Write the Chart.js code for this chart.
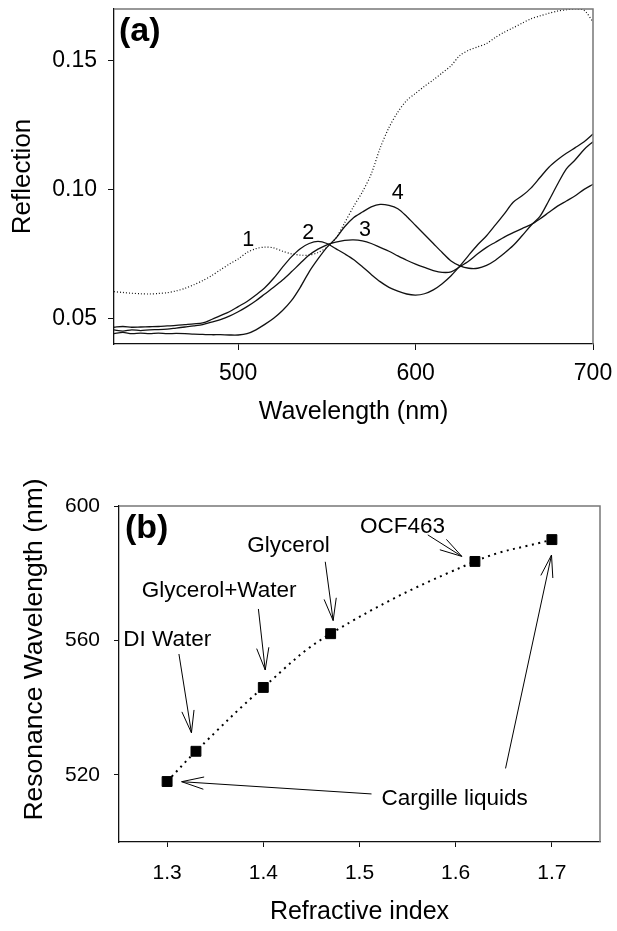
<!DOCTYPE html>
<html>
<head>
<meta charset="utf-8">
<script src="https://cdn.jsdelivr.net/npm/chart.js@4.4.1/dist/chart.umd.min.js"></script>
<style>
  html, body { margin: 0; padding: 0; background: #fff; }
  #wrapA { position: absolute; left: 0; top: 0; width: 617px; height: 466px; }
  #wrapB { position: absolute; left: 0; top: 466px; width: 617px; height: 465px; }
</style>
</head>
<body>
<div id="wrapA"><canvas id="chartA"></canvas></div>
<div id="wrapB"><canvas id="chartB"></canvas></div>
<script>
// ---- panel (a): reflection spectra ----
const wavelengths = [430, 435, 440, 445, 450, 455, 460, 465, 470, 475,
                     480, 485, 490, 495, 500, 505, 510, 515, 520, 525,
                     530, 535, 540, 545, 550, 555, 560, 565, 570, 575,
                     580, 585, 590, 595, 600, 605, 610, 615, 620, 625,
                     630, 635, 640, 645, 650, 655, 660, 665, 670, 675,
                     680, 685, 690, 695, 700];
const refl1 = [0.0603, 0.0600, 0.0597, 0.0595, 0.0594, 0.0596, 0.0599, 0.0606, 0.0616, 0.0630,
               0.0646, 0.0665, 0.0688, 0.0710, 0.0730, 0.0755, 0.0770, 0.0776, 0.0773, 0.0760,
               0.0750, 0.0745, 0.0745, 0.0755, 0.0775, 0.0810, 0.0870, 0.0933, 0.0990, 0.1060,
               0.1160, 0.1240, 0.1300, 0.1345, 0.1373, 0.1400, 0.1425, 0.1452, 0.1480, 0.1520,
               0.1540, 0.1553, 0.1566, 0.1590, 0.1610, 0.1627, 0.1645, 0.1662, 0.1673, 0.1683,
               0.1692, 0.1697, 0.1700, 0.1695, 0.1650];
const refl2 = [0.0465, 0.0468, 0.0465, 0.0466, 0.0467, 0.0468, 0.0470, 0.0472, 0.0475, 0.0478,
               0.0482, 0.0495, 0.0510, 0.0525, 0.0545, 0.0565, 0.0590, 0.0618, 0.0655, 0.0698,
               0.0738, 0.0770, 0.0790, 0.0798, 0.0790, 0.0770, 0.0750, 0.0728, 0.0700, 0.0670,
               0.0642, 0.0620, 0.0605, 0.0594, 0.0590, 0.0595, 0.0610, 0.0634, 0.0665, 0.0703,
               0.0745, 0.0785, 0.0820, 0.0862, 0.0905, 0.0950, 0.0975, 0.1005, 0.1045, 0.1085,
               0.1115, 0.1140, 0.1162, 0.1185, 0.1215];
const refl3 = [0.0455, 0.0450, 0.0455, 0.0452, 0.0455, 0.0456, 0.0458, 0.0462, 0.0466, 0.0470,
               0.0475, 0.0485, 0.0495, 0.0508, 0.0525, 0.0545, 0.0568, 0.0594, 0.0620, 0.0648,
               0.0680, 0.0713, 0.0745, 0.0768, 0.0785, 0.0795, 0.0802, 0.0804, 0.0800, 0.0790,
               0.0775, 0.0760, 0.0742, 0.0725, 0.0710, 0.0697, 0.0685, 0.0678, 0.0680, 0.0700,
               0.0722, 0.0750, 0.0775, 0.0795, 0.0815, 0.0832, 0.0848, 0.0863, 0.0885, 0.0910,
               0.0935, 0.0955, 0.0975, 0.1000, 0.1020];
const refl4 = [0.0440, 0.0445, 0.0440, 0.0442, 0.0440, 0.0442, 0.0440, 0.0441, 0.0440, 0.0438,
               0.0437, 0.0436, 0.0436, 0.0435, 0.0435, 0.0440, 0.0455, 0.0476, 0.0500, 0.0530,
               0.0568, 0.0620, 0.0680, 0.0730, 0.0775, 0.0810, 0.0855, 0.0890, 0.0912, 0.0932,
               0.0942, 0.0938, 0.0925, 0.0895, 0.0860, 0.0825, 0.0790, 0.0755, 0.0722, 0.0703,
               0.0694, 0.0694, 0.0705, 0.0725, 0.0752, 0.0782, 0.0820, 0.0860, 0.0894, 0.0955,
               0.1020, 0.1080, 0.1115, 0.1155, 0.1185];
const wlTicks = [500, 600, 700];
const reflTicks = [0.05, 0.10, 0.15];
const curveNames = ['1', '2', '3', '4'];
const curveNameWl = [505.7, 539.5, 571.4, 590];
const curveNameRefl = [0.0804, 0.0830, 0.0843, 0.0986];

// ---- panel (b): resonance vs refractive index ----
const refIndex = [1.30, 1.33, 1.40, 1.47, 1.62, 1.70];
const resWavelength = [518, 527, 546, 562, 583.5, 590];
const riTicks = [1.3, 1.4, 1.5, 1.6, 1.7];
const resTicks = [520, 560, 600];
const liquidNames = ['DI Water', 'Glycerol+Water', 'Glycerol', 'OCF463', 'Cargille liquids'];
const liquidNameAt = [[1.2545, 558.3], [1.2736, 572.8], [1.3834, 586.4], [1.5004, 592.05], [1.5229, 511.0]];
// arrows: from (x1, y1) to tip (x2, y2), in data units
const liquidArrows = [
  [1.3123, 555.95, 1.3253, 532.5],
  [1.3949, 569.35, 1.4020, 551.2],
  [1.4644, 583.4, 1.4726, 565.9],
  [1.5710, 591.4, 1.6064, 585.0],
  [1.5125, 514.3, 1.3151, 517.95],
  [1.6518, 521.9, 1.6996, 585.4]
];

const FONT = '"Liberation Sans", Arial, Helvetica, sans-serif';

function toPoints(xs, ys) {
  return xs.map((x, i) => ({ x: x, y: ys[i] }));
}

function drawArrow(ctx, x1, y1, x2, y2) {
  const ang = Math.atan2(y2 - y1, x2 - x1);
  const len = 23, spread = 0.27;
  ctx.beginPath();
  ctx.moveTo(x1, y1);
  ctx.lineTo(x2, y2);
  ctx.moveTo(x2 - len * Math.cos(ang - spread), y2 - len * Math.sin(ang - spread));
  ctx.lineTo(x2, y2);
  ctx.lineTo(x2 - len * Math.cos(ang + spread), y2 - len * Math.sin(ang + spread));
  ctx.stroke();
}

function drawFrame(ctx, a) {
  ctx.strokeStyle = '#777';
  ctx.lineWidth = 1.5;
  ctx.beginPath();
  ctx.moveTo(a.left, a.top);
  ctx.lineTo(a.right, a.top);
  ctx.lineTo(a.right, a.bottom);
  ctx.stroke();
}

const panelAPlugin = {
  id: 'panelA',
  afterDraw(chart) {
    const { ctx, chartArea: a, scales: { x, y } } = chart;
    ctx.save();
    drawFrame(ctx, a);
    ctx.fillStyle = '#000';
    ctx.font = 'bold 34px ' + FONT;
    ctx.textAlign = 'left';
    ctx.textBaseline = 'alphabetic';
    ctx.fillText('(a)', a.left + 5, a.top + 32);
    ctx.font = '21.5px ' + FONT;
    ctx.textAlign = 'center';
    ctx.textBaseline = 'middle';
    curveNames.forEach((t, i) => {
      ctx.fillText(t, x.getPixelForValue(curveNameWl[i]), y.getPixelForValue(curveNameRefl[i]));
    });
    ctx.restore();
  }
};

const panelBPlugin = {
  id: 'panelB',
  afterDraw(chart) {
    const { ctx, chartArea: a, scales: { x, y } } = chart;
    ctx.save();
    drawFrame(ctx, a);
    ctx.fillStyle = '#000';
    ctx.font = 'bold 34px ' + FONT;
    ctx.textAlign = 'left';
    ctx.textBaseline = 'alphabetic';
    ctx.fillText('(b)', a.left + 6, a.top + 32);
    ctx.font = '22.5px ' + FONT;
    liquidNames.forEach((t, i) => {
      ctx.fillText(t, x.getPixelForValue(liquidNameAt[i][0]), y.getPixelForValue(liquidNameAt[i][1]));
    });
    ctx.strokeStyle = '#000';
    ctx.lineWidth = 1;
    liquidArrows.forEach(r => {
      drawArrow(ctx, x.getPixelForValue(r[0]), y.getPixelForValue(r[1]),
                x.getPixelForValue(r[2]), y.getPixelForValue(r[3]));
    });
    // y axis title, sits a little above the middle of the axis
    ctx.translate(35, (a.top + a.bottom) / 2 - 24.5);
    ctx.rotate(-Math.PI / 2);
    ctx.font = '26.5px ' + FONT;
    ctx.textAlign = 'center';
    ctx.textBaseline = 'middle';
    ctx.fillText('Resonance Wavelength (nm)', 0, 0);
    ctx.restore();
  }
};

function noEdgePadding(s) {
  s.paddingTop = 0;
  s.paddingBottom = 0;
  s.paddingLeft = 0;
  s.paddingRight = 0;
}

function axisStyle(tickLen, fontSize, pad) {
  return {
    grid: { display: true, drawOnChartArea: false, drawTicks: true, tickLength: tickLen, color: '#111', lineWidth: 1 },
    border: { display: true, color: '#111', width: 1.3 },
    ticks: { color: '#000', font: { family: FONT, size: fontSize }, padding: pad, maxRotation: 0, autoSkip: false }
  };
}

function lineSet(ys, dash) {
  return {
    data: toPoints(wavelengths, ys),
    borderColor: '#111',
    borderWidth: dash ? 1.2 : 1.3,
    borderDash: dash || [],
    pointRadius: 0,
    tension: 0.3,
    fill: false
  };
}

const xA = axisStyle(6, 23, 10);
const yA = axisStyle(6, 23, 11);

new Chart(document.getElementById('chartA'), {
  type: 'line',
  data: {
    datasets: [
      lineSet(refl1, [1, 2]),
      lineSet(refl2),
      lineSet(refl3),
      lineSet(refl4)
    ]
  },
  options: {
    responsive: true,
    maintainAspectRatio: false,
    animation: false,
    devicePixelRatio: 1,
    layout: { padding: { top: 9, right: 24, bottom: 0, left: 0 } },
    plugins: { legend: { display: false }, tooltip: { enabled: false } },
    scales: {
      x: Object.assign({}, xA, {
        type: 'linear', min: 430, max: 700,
        afterBuildTicks: s => { s.ticks = wlTicks.map(v => ({ value: v })); },
        afterFit: s => { s.height = 122; noEdgePadding(s); },
        title: { display: true, text: 'Wavelength (nm)', color: '#000',
                 font: { family: FONT, size: 25 }, padding: { top: 0, bottom: 38.6 } }
      }),
      y: Object.assign({}, yA, {
        type: 'linear', min: 0.04, max: 0.17,
        afterBuildTicks: s => { s.ticks = reflTicks.map(v => ({ value: v })); },
        afterFit: s => { s.width = 114; noEdgePadding(s); },
        ticks: Object.assign({}, yA.ticks, { callback: v => v.toFixed(2) }),
        title: { display: true, text: 'Reflection', color: '#000',
                 font: { family: FONT, size: 26 }, padding: { top: 7.4, bottom: 0 } }
      })
    }
  },
  plugins: [panelAPlugin]
});

const xB = axisStyle(5, 21, 14);
const yB = axisStyle(5, 21, 14);

new Chart(document.getElementById('chartB'), {
  type: 'line',
  data: {
    datasets: [{
      data: toPoints(refIndex, resWavelength),
      borderColor: '#000',
      borderWidth: 2,
      borderDash: [2, 4.5],
      tension: 0.4,
      pointStyle: 'rect',
      pointRadius: 7,
      pointBorderWidth: 1,
      pointBackgroundColor: '#000',
      pointBorderColor: '#000',
      fill: false,
      clip: false
    }]
  },
  options: {
    responsive: true,
    maintainAspectRatio: false,
    animation: false,
    devicePixelRatio: 1,
    layout: { padding: { top: 40, right: 17, bottom: 0, left: 0 } },
    plugins: { legend: { display: false }, tooltip: { enabled: false } },
    scales: {
      x: Object.assign({}, xB, {
        type: 'linear', min: 1.25, max: 1.75,
        afterBuildTicks: s => { s.ticks = riTicks.map(v => ({ value: v })); },
        afterFit: s => { s.height = 89; noEdgePadding(s); },
        ticks: Object.assign({}, xB.ticks, { callback: v => v.toFixed(1) }),
        title: { display: true, text: 'Refractive index', color: '#000',
                 font: { family: FONT, size: 25 }, padding: { top: 0, bottom: 3.6 } }
      }),
      y: Object.assign({}, yB, {
        type: 'linear', min: 500, max: 600,
        afterBuildTicks: s => { s.ticks = resTicks.map(v => ({ value: v })); },
        afterFit: s => { s.width = 119; noEdgePadding(s); }
      })
    }
  },
  plugins: [panelBPlugin]
});
</script>
</body>
</html>
